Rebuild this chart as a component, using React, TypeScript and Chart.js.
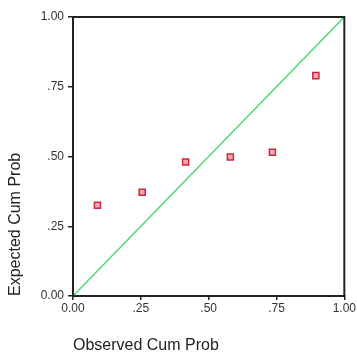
import React, { useEffect, useRef } from "react";
import { Chart, registerables } from "chart.js";

Chart.register(...registerables);

const observedCumProb = [0.09, 0.255, 0.415, 0.58, 0.735, 0.895];
const expectedCumProb = [0.325, 0.372, 0.48, 0.498, 0.515, 0.79];
const referenceLine = [0, 1];
const tickLabels = ["0.00", ".25", ".50", ".75", "1.00"];
const xTitle = "Observed Cum Prob";
const yTitle = "Expected Cum Prob";

const frame = {
  id: "frame",
  afterDatasetsDraw(chart: any) {
    const { ctx, chartArea } = chart;
    ctx.save();
    ctx.strokeStyle = "#222";
    ctx.lineWidth = 2;
    ctx.strokeRect(chartArea.left, chartArea.top, chartArea.right - chartArea.left, chartArea.bottom - chartArea.top);
    ctx.restore();
  },
};

export default function App() {
  const ref = useRef<HTMLCanvasElement>(null);
  useEffect(() => {
    document.body.style.margin = "0";
    const tickFmt = (v: any) => {
      const i = Math.round(Number(v) / 0.25);
      return tickLabels[i] ?? "";
    };
    const chart = new Chart(ref.current!, {
      type: "scatter",
      data: {
        datasets: [
          {
            type: "line",
            data: referenceLine.map((v) => ({ x: v, y: v })),
            borderColor: "#4fd873",
            borderWidth: 1.5,
            pointRadius: 0,
            fill: false,
          } as any,
          {
            data: observedCumProb.map((x, i) => ({ x, y: expectedCumProb[i] })),
            pointStyle: "rect",
            pointRadius: 4.3,
            borderWidth: 1.5,
            borderColor: "#cc2840",
            backgroundColor: "#f0a8b2",
          },
        ],
      },
      options: {
        animation: false,
        responsive: false,
        layout: { padding: { top: 17, right: 12, left: 0, bottom: 0 } },
        plugins: { legend: { display: false }, tooltip: { enabled: false } },
        scales: {
          x: {
            type: "linear",
            min: 0,
            max: 1,
            afterFit: (s: any) => { s.height = 60; },
            ticks: {
              stepSize: 0.25,
              callback: tickFmt,
              color: "#333",
              font: { family: "Liberation Sans", size: 12 },
              padding: 1,
              maxRotation: 0,
            },
            grid: { drawOnChartArea: false, drawTicks: true, tickLength: 4, color: "#222", lineWidth: 1.5 },
            border: { display: true, color: "#222", width: 2 },
            title: {
              display: true,
              text: xTitle,
              align: "start",
              color: "#222",
              font: { family: "Liberation Sans", size: 16 },
              padding: { top: 0, bottom: 1 },
            },
          },
          y: {
            type: "linear",
            min: 0,
            max: 1,
            afterFit: (s: any) => { s.width = 73; },
            ticks: {
              stepSize: 0.25,
              callback: tickFmt,
              color: "#333",
              font: { family: "Liberation Sans", size: 12 },
              padding: 4,
            },
            grid: { drawOnChartArea: false, drawTicks: true, tickLength: 5, color: "#222", lineWidth: 1.5 },
            border: { display: true, color: "#222", width: 2 },
            title: {
              display: true,
              text: yTitle,
              align: "start",
              color: "#222",
              font: { family: "Liberation Sans", size: 16 },
              padding: { top: 6, bottom: 0 },
            },
          },
        },
      },
      plugins: [frame],
    });
    return () => chart.destroy();
  }, []);
  return <canvas ref={ref} width={357} height={356} style={{ display: "block" }} />;
}
